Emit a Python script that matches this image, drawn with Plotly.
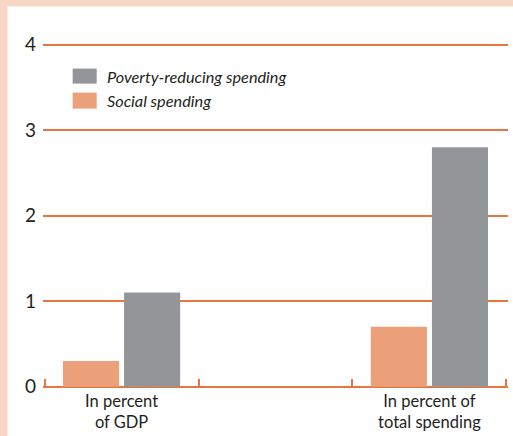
import plotly.graph_objects as go

categories = ["In percent<br>of GDP", " ", "In percent of<br>total spending"]
social = [0.3, None, 0.7]
poverty = [1.1, None, 2.8]
y_ticks = [0, 1, 2, 3, 4]
legend_names = ["Poverty-reducing spending", "Social spending"]

ORANGE = "#EBA07A"
GREY = "#939598"
LINE = "#E8743F"
PINK = "#F7D6C6"
TEXT = "#231F20"
FONT = "Lato"

W, H = 513, 436
# target pixel frame: x=-0.5 -> 45px, x=2.5 -> 506px ; y=0 -> 387px, y=4 -> 45px
X0, X1, Y0, Y1 = 45, 506, 387, 45
ux = (X1 - X0) / 3.0
uy = (Y0 - Y1) / 4.0
XPAD = 1.6 / ux
YPAD_B, YPAD_T = 1.3 / uy, 1.6 / uy
L = X0 - XPAD * ux
R = W - (X1 + XPAD * ux)
T = Y1 - YPAD_T * uy
B = H - (Y0 + YPAD_B * uy)
pw, ph = W - L - R, H - T - B

def px_x(px):
    return (px - L) / pw

def px_y(py):
    return (H - B - py) / ph

fig = go.Figure()
fig.add_bar(x=categories, y=social, marker_color=ORANGE, marker_line_width=0,
            name=legend_names[1], showlegend=False)
fig.add_bar(x=categories, y=poverty, marker_color=GREY, marker_line_width=0,
            name=legend_names[0], showlegend=False)

shapes = [
    dict(type="rect", xref="paper", yref="paper", x0=px_x(-5), x1=px_x(W + 5),
         y0=px_y(7), y1=px_y(-5), fillcolor=PINK, line_width=0, layer="below"),
    dict(type="rect", xref="paper", yref="paper", x0=px_x(-5), x1=px_x(8),
         y0=px_y(H + 5), y1=px_y(-5), fillcolor=PINK, line_width=0, layer="below"),
    dict(type="rect", xref="paper", yref="paper", x0=px_x(73), x1=px_x(97),
         y0=px_y(84), y1=px_y(69), fillcolor=GREY, line_width=0),
    dict(type="rect", xref="paper", yref="paper", x0=px_x(73), x1=px_x(97),
         y0=px_y(109), y1=px_y(93), fillcolor=ORANGE, line_width=0),
]
annotations = [
    dict(xref="paper", yref="paper", x=px_x(105), y=px_y(76.5), text=legend_names[0],
         showarrow=False, xanchor="left", yanchor="middle",
         font=dict(family=FONT, size=16.3, color=TEXT, style="italic")),
    dict(xref="paper", yref="paper", x=px_x(105), y=px_y(101), text=legend_names[1],
         showarrow=False, xanchor="left", yanchor="middle",
         font=dict(family=FONT, size=16.3, color=TEXT, style="italic")),
]

fig.update_layout(
    width=W, height=H,
    margin=dict(l=L, r=R, t=T, b=B, pad=0, autoexpand=False),
    paper_bgcolor="white", plot_bgcolor="rgba(0,0,0,0)",
    barmode="group", bargap=0.206, bargroupgap=0.082,
    shapes=shapes, annotations=annotations,
    font=dict(family=FONT, color=TEXT),
    showlegend=False,
)
fig.update_xaxes(
    type="category", range=[-0.5 - XPAD, 2.5 + XPAD], tickson="boundaries", ticks="inside",
    ticklen=9, tickwidth=1.5, tickcolor=LINE, showline=False, automargin=False,
    showgrid=False, zeroline=False, ticklabelstandoff=1,
    tickfont=dict(family=FONT, size=16.5, color=TEXT),
)
fig.update_yaxes(
    range=[-YPAD_B, 4 + YPAD_T], tickvals=y_ticks, showgrid=True, gridcolor=LINE, gridwidth=1.5,
    zeroline=False, showline=False, ticks="", ticklabelstandoff=6, automargin=False,
    tickfont=dict(family=FONT, size=19, color=TEXT),
)

fig.write_html("out.html")
